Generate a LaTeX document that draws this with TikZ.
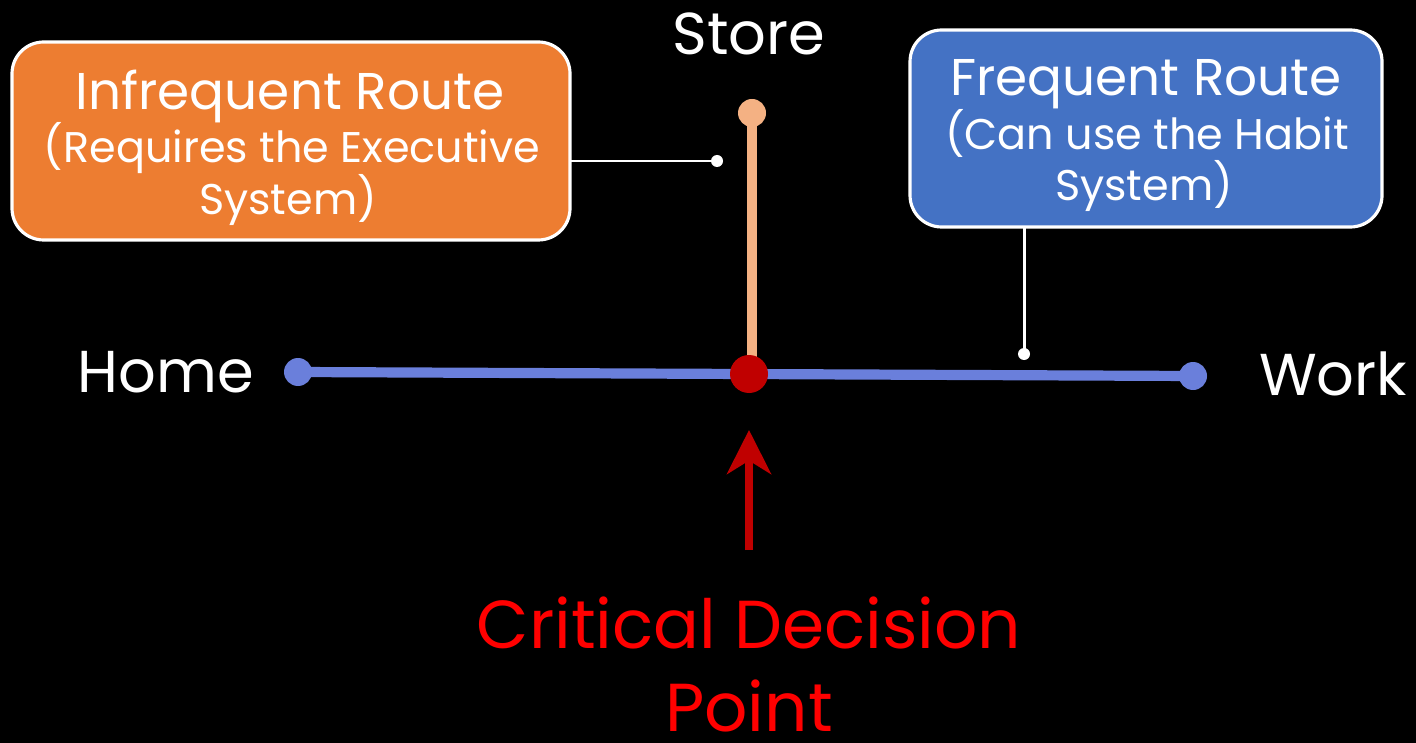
\documentclass[tikz,border=0pt]{standalone}
\usepackage{fontspec}
\setmainfont{Poppins}
\usetikzlibrary{arrows.meta}
\definecolor{routeblue}{HTML}{6A7FDB}
\definecolor{storepeach}{HTML}{F4B183}
\definecolor{boxorange}{HTML}{ED7D31}
\definecolor{boxblue}{HTML}{4472C4}
\definecolor{critred}{HTML}{C00000}

\begin{document}
\begin{tikzpicture}[x=0.01cm,y=-0.01cm,
		routebox/.style={draw=white,line width=0.9pt,rounded corners=9pt},
		boxtitle/.style={text=white,anchor=base,inner sep=0pt,font=\fontsize{14.7}{17}\selectfont},
		boxsub/.style={text=white,anchor=base,inner sep=0pt,font=\fontsize{12.2}{15}\selectfont},
		callout/.style={draw=white,line width=0.85pt},
		place/.style={text=white,anchor=base,inner sep=0pt,font=\fontsize{16.8}{20}\selectfont}]
		%%%%% START %%%%%
		\fill[black] (0, 0) rectangle (1416, 743);
		\useasboundingbox (0, 0) rectangle (1416, 743);
		
		% route boxes
		\draw[routebox,fill=boxorange] (12, 42) rectangle (570, 240);
		\node[boxtitle] (infreq) at (290, 110) {Infrequent Route};
		\node[boxsub] (infreqa) at (292, 163) {(Requires the Executive};
		\node[boxsub] (infreqb) at (288, 215) {System)};
		\draw[routebox,fill=boxblue] (910, 30) rectangle (1382, 227);
		\node[boxtitle] (freq) at (1146, 96) {Frequent Route};
		\node[boxsub] (freqa) at (1147, 150) {(Can use the Habit};
		\node[boxsub] (freqb) at (1144, 201) {System)};
		
		% route points
		\coordinate (home) at (298, 372);
		\coordinate (work) at (1193, 376);
		\coordinate (store) at (752, 113);
		\coordinate (crit) at (749, 374);
		
		\draw[storepeach,line width=3pt] (store) -- (752, 372);
		\fill[storepeach] (store) circle (14);
		\draw[routeblue,line width=2.9pt] (home) -- (work);
		\fill[routeblue] (home) circle (14);
		\fill[routeblue] (work) circle (14);
		\fill[critred] (crit) circle (19);
		
		% callouts
		\coordinate (infreqtip) at (717, 161);
		\coordinate (freqtip) at (1024, 354);
		\draw[callout] (570, 161) -- (infreqtip);
		\fill[white] (infreqtip) circle (6);
		\draw[callout] (1024, 227) -- (freqtip);
		\fill[white] (freqtip) circle (6);
		
		% labels
		\node[place] (storelbl) at (749, 55) {Store};
		\node[place] (homelbl) at (166, 393) {Home};
		\node[place] (worklbl) at (1333, 395) {Work};
		\node[place,text=red,font=\fontsize{19.3}{23}\selectfont] (critlbl) at (749, 648) {Critical Decision};
		\node[place,text=red,font=\fontsize{19.3}{23}\selectfont] (pointlbl) at (749, 731) {Point};
		
		% arrow
		\coordinate (arrowtail) at (749, 550);
		\draw[critred,line width=2.5pt,-{Stealth[length=12.5pt,width=12.5pt,inset=3.8pt]}] (arrowtail) -- (749, 430);
		%%%%% END %%%%%
	\end{tikzpicture}
\end{document}
